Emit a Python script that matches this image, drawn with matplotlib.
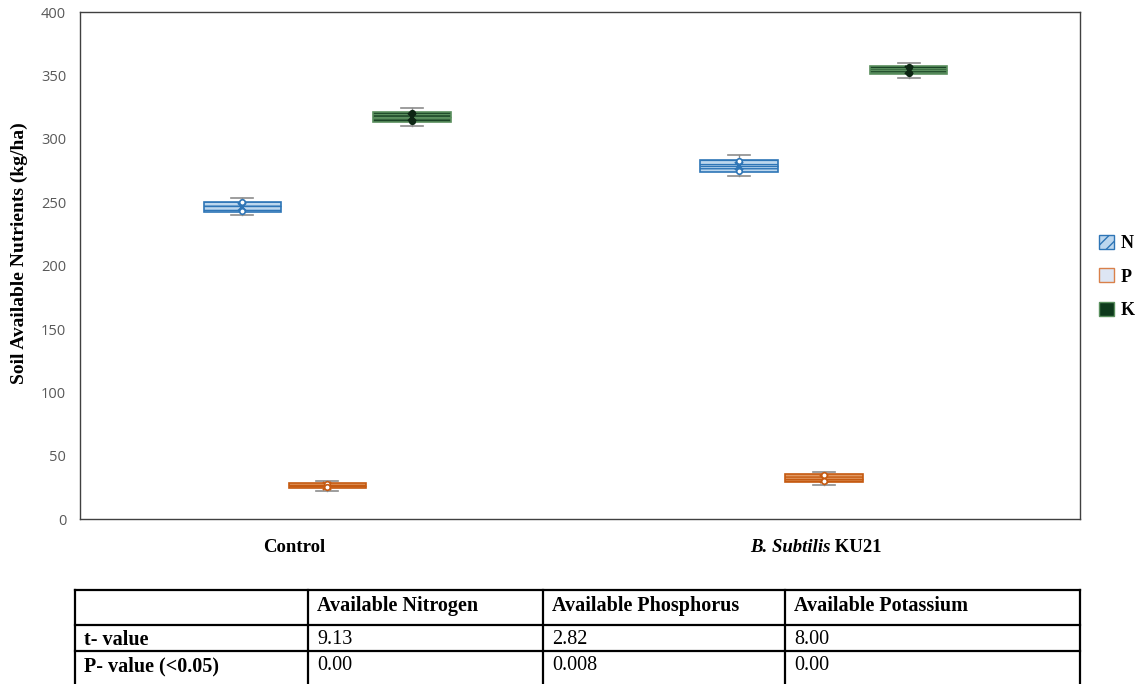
import matplotlib.pyplot as plt
from matplotlib.patches import Patch

groups = ["Control", "B. Subtilis KU21"]
nutrients = ["N", "P", "K"]

# box stats per nutrient, one value per group (Control, KU21)
whislo = {"N": [240.2, 271.1], "P": [22.2, 27.0], "K": [310.3, 347.7]}
q1 = {"N": [242.0, 273.8], "P": [24.3, 29.1], "K": [313.4, 351.1]}
med = {"N": [247.0, 279.0], "P": [26.0, 32.0], "K": [317.0, 354.3]}
q3 = {"N": [250.5, 283.6], "P": [28.7, 35.4], "K": [321.3, 357.5]}
whishi = {"N": [253.2, 287.0], "P": [30.1, 37.2], "K": [324.5, 360.2]}
means = {"N": [246.3, 278.8], "P": [26.2, 32.0], "K": [317.2, 354.5]}
points = {"N": [[250.0, 243.2], [282.5, 275.0]],
          "P": [[28.0, 25.0], [34.5, 30.0]],
          "K": [[320.5, 314.5], [356.8, 352.0]]}

col_labels = ["", "Available Nitrogen", "Available Phosphorus", "Available Potassium"]
row_labels = ["t- value", "P- value (<0.05)"]
t_values = ["9.13", "2.82", "8.00"]
p_values = ["0.00", "0.008", "0.00"]

fills = {"N": "#bdd7ee", "P": "#e39a63", "K": "#1a4426"}
edges = {"N": "#2e75b6", "P": "#c55a11", "K": "#5a8f5e"}
offsets = {"N": -0.171, "P": 0.0, "K": 0.171}

fig = plt.figure(figsize=(11.37, 6.84), dpi=100)
ax = fig.add_axes([0.0704, 0.241, 0.8794, 0.7412])

for n in nutrients:
    stats = []
    pos = []
    for g in range(len(groups)):
        stats.append(dict(med=med[n][g], q1=q1[n][g], q3=q3[n][g],
                          whislo=whislo[n][g], whishi=whishi[n][g],
                          mean=means[n][g], fliers=[]))
        pos.append(g + offsets[n])
    ax.bxp(stats, positions=pos, widths=0.155, capwidths=0.045,
           patch_artist=True, showmeans=True, showfliers=False,
           boxprops=dict(facecolor=fills[n], edgecolor=edges[n], linewidth=1.2, hatch="----"),
           medianprops=dict(color=edges[n], linewidth=1),
           whiskerprops=dict(color="#8c8c8c", linewidth=1),
           capprops=dict(color="#8c8c8c", linewidth=1.2),
           meanprops=dict(marker="x", markeredgecolor=edges[n] if n != "K" else "#0d2614",
                          markersize=6, markeredgewidth=1.5))
    for g in range(len(groups)):
        ax.plot([g + offsets[n]] * len(points[n][g]), points[n][g], "o", ms=4,
                mfc="white" if n != "K" else "#0d2614",
                mec=edges[n] if n != "K" else "#0d2614", mew=1.2, zorder=4)

ax.set_xlim(-0.497, 1.515)
ax.set_ylim(0, 400)
ax.set_yticks(range(0, 401, 50))
ax.tick_params(axis="y", length=0, labelsize=10.5, labelcolor="#595959", pad=10)
for lab in ax.get_yticklabels():
    lab.set_family("Open Sans")
ax.set_xticks([])
xt = ax.get_xaxis_transform()
ax.text(-0.065, -0.04, "Control", transform=xt, ha="center", va="top",
        family="Liberation Serif", fontweight="bold", fontsize=13.5)
ax.text(1.013, -0.04, "B. Subtilis", transform=xt, ha="right", va="top",
        family="Liberation Serif", fontweight="bold", style="italic", fontsize=13.5)
ax.text(1.013, -0.04, " KU21", transform=xt, ha="left", va="top",
        family="Liberation Serif", fontweight="bold", fontsize=13.5)
for s in ax.spines.values():
    s.set_color("#404040")
    s.set_linewidth(1)
ax.set_ylabel("Soil Available Nutrients (kg/ha)", family="Liberation Serif",
              fontweight="bold", fontsize=14)
ax.yaxis.set_label_coords(-0.052, 0.525)

handles = [Patch(facecolor="#bdd7ee", edgecolor="#2e75b6", hatch="///", label="N"),
           Patch(facecolor="#dde6f4", edgecolor="#d9804a", label="P"),
           Patch(facecolor="#0e3a1c", edgecolor="#5a8f5e", label="K")]
fig.legend(handles=handles, loc="center left", bbox_to_anchor=(0.967, 0.595), frameon=False,
           prop=dict(family="Liberation Serif", weight="bold", size=13),
           handlelength=0.8, handleheight=0.8, handletextpad=0.35, labelspacing=0.9,
           borderpad=0, borderaxespad=0)

# table below, drawn in figure pixel coordinates (top-left origin)
tax = fig.add_axes([0, 0, 1, 1])
tax.set_xlim(0, 1137)
tax.set_ylim(684, 0)
tax.axis("off")
col_x = [75, 308, 543, 785, 1080]
row_y = [590, 625, 651]
for y in row_y:
    tax.plot([col_x[0], col_x[-1]], [y, y], color="black", lw=1.6)
for x in col_x:
    tax.plot([x, x], [row_y[0], 690], color="black", lw=1.6)
rows = [col_labels, [row_labels[0]] + t_values, [row_labels[1]] + p_values]
text_y = [606, 640, 666]
for r, row in enumerate(rows):
    for c, val in enumerate(row):
        tax.text(col_x[c] + 9, text_y[r], val, ha="left", va="center",
                 family="Liberation Serif", fontsize=14.5,
                 fontweight="bold" if (r == 0 or c == 0) else "normal")

fig.savefig("out.png", dpi=100)
